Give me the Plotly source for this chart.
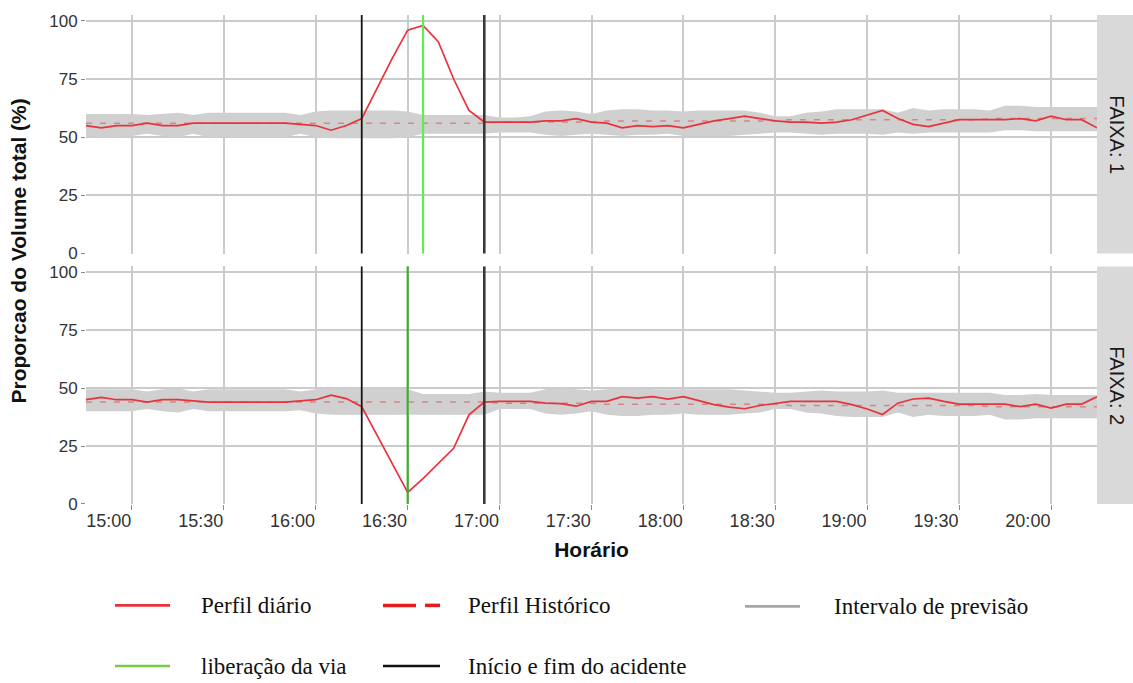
import pandas as pd
import plotly.graph_objects as go

# ---------------------------------------------------------------------------
# Data: share of total volume per lane (%), 5-minute intervals
# ---------------------------------------------------------------------------
DIA = "2019-01-01 "
horario = pd.date_range(DIA + "14:45", DIA + "20:15", freq="5min")

# Faixa 1 - perfil diário (observed)
diario_f1 = [55, 54, 55, 55, 56, 55, 55, 56, 56, 56,
             56, 56, 56, 56, 55.5, 55, 53, 55, 58, 71,
             84, 96, 98, 91, 75, 61.5, 56.5, 56.5, 56.5, 56.5,
             57, 57, 58, 56.5, 56, 54, 55, 54.5, 55, 54,
             55.5, 57, 58, 59, 58, 57, 56.5, 56.5, 56, 56.5,
             57.5, 59.5, 61.5, 58, 55.5, 54.5, 56, 57.5, 57.5, 57.5,
             57.5, 58, 57, 59, 57.5, 57.5, 54]

# Faixa 2 - perfil diário (observed)
diario_f2 = [45, 46, 45, 45, 44, 45, 45, 44.5, 44, 44,
             44, 44, 44, 44, 44.5, 45, 47, 45.5, 42, 29.5,
             17, 5, 11, 17.5, 24, 38.5, 44, 44.3, 44.3, 44.3,
             43.5, 43.3, 42.2, 44.3, 44.3, 46.3, 45.7, 46.3, 45.3, 46.3,
             44.6, 42.9, 41.8, 41.1, 42.5, 43.5, 44.3, 44.3, 44.3, 44.3,
             42.9, 41, 38.6, 43.5, 45.3, 45.7, 44.3, 43.1, 43.1, 43.1,
             43.1, 42, 43.1, 41.4, 43.1, 43.1, 46.3]

# Perfil histórico
historico_f1 = [56, 56, 56, 56, 56, 56, 56, 56, 56, 56,
                56, 56, 56, 56, 56, 56, 56, 56, 56, 56,
                56, 56, 56, 56, 56, 56, 56, 56.5, 56.5, 56.5,
                56.5, 56.5, 56.5, 56.5, 57, 57, 57, 57, 57, 57,
                57, 57, 57, 57, 57, 57, 57.5, 57.5, 57.5, 57.5,
                57.5, 57.5, 57.5, 57.5, 57.5, 57.5, 57.5, 57.5, 57.5, 58,
                58, 58, 58, 58, 58, 58, 58]
historico_f2 = [44, 44, 44, 44, 44, 44, 44, 44, 44, 44,
                44, 44, 44, 44, 44, 44, 44, 44, 44, 44,
                44, 44, 44, 44, 44, 44, 44, 43.5, 43.5, 43.5,
                43.5, 43.5, 43.5, 43.5, 43, 43, 43, 43, 43, 43,
                43, 43, 43, 43, 43, 43, 42.5, 42.5, 42.5, 42.5,
                42.5, 42.5, 42.5, 42.5, 42.5, 42.5, 42.5, 42.5, 42.5, 42,
                42, 42, 42, 42, 42, 42, 42]

# Intervalo de previsão (limites inferior / superior)
inf_f1 = [50.5, 50, 50, 50.5, 51.5, 50.5, 50, 51.5, 50, 50,
          50, 50, 50, 50, 51.5, 50, 49.5, 49.5, 49.5, 49.5,
          49.5, 50, 51.5, 51.5, 51.5, 51.5, 51.5, 52, 52, 52,
          51, 50.5, 51, 51.5, 51, 50.5, 51, 51, 51.5, 50.5,
          50.5, 50.5, 50.5, 51, 51.5, 52, 52, 51.5, 51, 51.5,
          51.5, 51.5, 51, 52, 51.5, 52, 52, 52, 52, 52,
          53, 53, 52.5, 52.5, 52.5, 52.5, 52.5]
sup_f1 = [60, 60, 60, 60, 59.5, 60, 60.5, 59.5, 60.5, 60.5,
          60.5, 60.5, 60.5, 60.5, 59.5, 61, 61.5, 61.5, 61.5, 61.5,
          61.5, 61, 59.5, 59.5, 59.5, 59.5, 59.5, 58.5, 58.5, 59,
          61, 61.5, 61, 60, 61.5, 62, 62, 61.5, 61.5, 61,
          61.5, 61.5, 61.5, 61.5, 60.5, 59, 59, 60.5, 61, 62,
          62, 62, 62, 60.5, 62.5, 61.5, 62, 62, 62, 61.5,
          63.5, 63.5, 63, 63, 63, 63, 63]
inf_f2 = [40, 40, 40, 40, 41, 40, 39.5, 41, 40, 40,
          40, 40, 40, 40, 40.5, 39, 38.5, 38.5, 38.5, 38.5,
          38.5, 38.5, 38.5, 38.5, 38.5, 38.5, 38.5, 41, 41, 41,
          39, 38.5, 39, 40, 38.5, 38, 38, 38.5, 38.5, 39,
          38.5, 38.5, 38.5, 39, 39.5, 41, 41, 39.5, 39, 38,
          37.5, 37.5, 37.5, 39.5, 37.5, 38.5, 38, 38, 38, 38.5,
          36.5, 36.5, 37, 37, 37, 37, 37]
sup_f2 = [49.5, 49.5, 49.5, 49.5, 48.5, 49.5, 50, 48.5, 49.5, 49.5,
          49.5, 49.5, 49.5, 49.5, 48.5, 49.5, 50, 50, 50, 50,
          50, 49.5, 47.5, 47.5, 47.5, 47.5, 48.5, 48, 48, 48,
          49.5, 50, 49.5, 49, 49.5, 50, 50, 49.5, 49.5, 49.5,
          49.5, 49.5, 49.5, 49, 48.5, 48, 48, 48.5, 49, 48.5,
          48.5, 48.5, 49, 48, 48, 48, 48, 48, 48, 48,
          47, 47, 47.5, 47, 47, 47, 47]

# Event times
inicio_acidente = DIA + "16:15"
fim_acidente = DIA + "16:55"
liberacao_via = {1: DIA + "16:35", 2: DIA + "16:30"}

faixas = [1, 2]
tick_y = [0, 25, 50, 75, 100]

# ---------------------------------------------------------------------------
# Styling
# ---------------------------------------------------------------------------
W, H = 1133, 683
M_L, M_R, M_T, M_B = 86, 36, 12, 179
PW, PH = W - M_L - M_R, H - M_T - M_B

RED = "#e8333b"
HIST = "rgba(215,115,115,0.8)"
BAND = "rgb(208,208,208)"
GRID = "#cbcbcb"
GREEN = {1: "#5cf04a", 2: "#3fae2e"}
BLACK = "#141414"
SANS = "Liberation Sans, Arial, sans-serif"
SERIF = "Liberation Serif, Times New Roman, serif"

# panel rows in pixels (top, bottom)
panel_px = {1: (12, 252), 2: (265, 504)}


def py_to_paper(py):
    return (H - M_B - py) / PH


def px_to_paper(px):
    return (px - M_L) / PW


dados = {
    1: dict(d=diario_f1, h=historico_f1, lo=inf_f1, hi=sup_f1, xa="x2", ya="y2"),
    2: dict(d=diario_f2, h=historico_f2, lo=inf_f2, hi=sup_f2, xa="x", ya="y"),
}

fig = go.Figure()

for f in faixas:
    s = dados[f]
    fig.add_trace(go.Scatter(x=horario, y=s["lo"], mode="lines", line=dict(width=0),
                             xaxis=s["xa"], yaxis=s["ya"], showlegend=False,
                             hoverinfo="skip"))
    fig.add_trace(go.Scatter(x=horario, y=s["hi"], mode="lines", line=dict(width=0),
                             fill="tonexty", fillcolor=BAND,
                             xaxis=s["xa"], yaxis=s["ya"], showlegend=False,
                             name="Intervalo de previsão"))
    fig.add_trace(go.Scatter(x=horario, y=s["h"], mode="lines",
                             line=dict(color=HIST, width=1.5, dash="6px,8px"),
                             xaxis=s["xa"], yaxis=s["ya"], showlegend=False,
                             name="Perfil Histórico"))
    fig.add_trace(go.Scatter(x=horario, y=s["d"], mode="lines",
                             line=dict(color=RED, width=1.7),
                             xaxis=s["xa"], yaxis=s["ya"], showlegend=False,
                             name="Perfil diário"))

    # event markers spanning the whole panel
    for t, col, w in [(inicio_acidente, BLACK, 1.8), (fim_acidente, "#383838", 2.6),
                      (liberacao_via[f], GREEN[f], 2.2)]:
        fig.add_shape(type="line", xref=s["xa"], yref=s["ya"] + " domain",
                      x0=t, x1=t, y0=0, y1=1, line=dict(color=col, width=w),
                      layer="above")

    # facet strip
    top, bot = panel_px[f]
    fig.add_shape(type="rect", xref="paper", yref="paper",
                  x0=1.0, x1=px_to_paper(W), y0=py_to_paper(bot), y1=py_to_paper(top),
                  fillcolor="#d9d9d9", line=dict(width=0), layer="below")
    fig.add_annotation(text=f"FAIXA: {f}", xref="paper", yref="paper",
                       x=px_to_paper(1117), y=py_to_paper((top + bot) / 2),
                       xanchor="center", yanchor="middle",
                       textangle=90, showarrow=False,
                       font=dict(family=SANS, size=20, color="#1a1a1a"))

axis_common = dict(showgrid=True, gridcolor=GRID, gridwidth=1.6, zeroline=False,
                   showline=False)

x_range = [horario[0], horario[-1]]
fig.update_layout(
    width=W, height=H,
    margin=dict(l=M_L, r=M_R, t=M_T, b=M_B),
    paper_bgcolor="white", plot_bgcolor="white",
    showlegend=False,
    xaxis=dict(domain=[0, 1], anchor="y", range=x_range, type="date",
               tick0=DIA + "15:00", dtick=30 * 60 * 1000, tickformat="%H:%M",
               ticks="outside", ticklen=5, tickcolor="#8c8c8c", tickwidth=1.3,
               ticklabelposition="outside left",
               tickfont=dict(family=SANS, size=18, color="#333333"),
               title=dict(text="<b>Horário</b>", standoff=12,
                          font=dict(family=SANS, size=21, color="#111111")),
               **axis_common),
    xaxis2=dict(domain=[0, 1], anchor="y2", matches="x", type="date",
                tick0=DIA + "15:00", dtick=30 * 60 * 1000,
                showticklabels=False, ticks="", **axis_common),
    yaxis=dict(domain=[0, py_to_paper(panel_px[2][0])], anchor="x",
               range=[0, 102.5], tickvals=tick_y,
               ticks="outside", ticklen=4, tickcolor="#8c8c8c", tickwidth=1.3,
               tickfont=dict(family=SANS, size=17, color="#333333"),
               **axis_common),
    yaxis2=dict(domain=[py_to_paper(panel_px[1][1]), 1], anchor="x2",
                range=[0, 102.5], tickvals=tick_y,
                ticks="outside", ticklen=4, tickcolor="#8c8c8c", tickwidth=1.3,
                tickfont=dict(family=SANS, size=17, color="#333333"),
                **axis_common),
)

# shared y-axis title
fig.add_annotation(text="<b>Proporcao do Volume total (%)</b>", xref="paper", yref="paper",
                   x=px_to_paper(19), y=py_to_paper(250), textangle=-90,
                   xanchor="center", yanchor="middle",
                   showarrow=False, font=dict(family=SANS, size=21, color="#111111"))

# ---------------------------------------------------------------------------
# Legend (two rows below the chart)
# ---------------------------------------------------------------------------
legenda = [
    ("Perfil diário", RED, "solid", 115, 170, 199, 606),
    ("Perfil Histórico", "#e81c1c", "dash", 383, 440, 466, 606),
    ("Intervalo de previsão", "#a6a6a6", "solid", 745, 800, 832, 607),
    ("liberação da via", "#78cc44", "solid", 115, 170, 199, 667),
    ("Início e fim do acidente", "#111111", "solid", 383, 440, 466, 667),
]
for txt, col, dash, x0, x1, xt, yc in legenda:
    if dash == "dash":
        segs = [(x0, x0 + 33), (x0 + 42, x1)]
    else:
        segs = [(x0, x1)]
    for a, b in segs:
        fig.add_shape(type="line", xref="paper", yref="paper",
                      x0=px_to_paper(a), x1=px_to_paper(b),
                      y0=py_to_paper(yc), y1=py_to_paper(yc),
                      line=dict(color=col, width=3.5 if dash == "dash" else 2.6))
    fig.add_annotation(text=txt, xref="paper", yref="paper",
                       x=px_to_paper(xt), y=py_to_paper(yc), xanchor="left",
                       yanchor="middle", showarrow=False,
                       font=dict(family=SERIF, size=23, color="#111111"))

fig.write_html("out.html")
